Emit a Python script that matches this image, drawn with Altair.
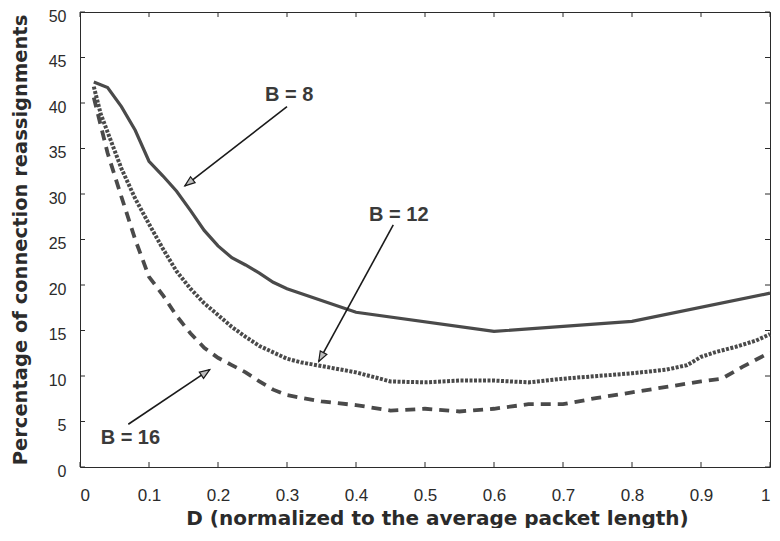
import altair as alt
import pandas as pd

# ---- data ----
d_b8 = [0.02, 0.04, 0.06, 0.08, 0.10, 0.12, 0.14, 0.16, 0.18, 0.20, 0.22, 0.24,
        0.26, 0.28, 0.30, 0.40, 0.60, 0.80, 1.00]
pct_b8 = [42.3, 41.7, 39.6, 37.0, 33.6, 32.0, 30.3, 28.2, 26.0, 24.3, 23.0, 22.2,
          21.3, 20.3, 19.6, 17.0, 14.9, 16.0, 19.1]

d_b12 = [0.02, 0.03, 0.04, 0.06, 0.08, 0.10, 0.12, 0.14, 0.16, 0.18, 0.20, 0.22,
         0.24, 0.26, 0.28, 0.30, 0.32, 0.35, 0.40, 0.45, 0.50, 0.55, 0.60, 0.65,
         0.70, 0.75, 0.80, 0.85, 0.88, 0.90, 0.92, 0.95, 0.98, 1.00]
pct_b12 = [41.8, 38.8, 36.8, 32.8, 29.5, 26.7, 24.0, 21.5, 19.6, 18.0, 16.7, 15.4,
           14.3, 13.3, 12.6, 11.9, 11.5, 11.1, 10.4, 9.4, 9.3, 9.5, 9.5, 9.3,
           9.7, 10.0, 10.3, 10.7, 11.2, 12.1, 12.6, 13.2, 13.9, 14.6]

d_b16 = [0.02, 0.04, 0.06, 0.08, 0.10, 0.12, 0.14, 0.16, 0.18, 0.20, 0.22, 0.24,
         0.26, 0.28, 0.30, 0.35, 0.40, 0.45, 0.50, 0.55, 0.60, 0.65, 0.70, 0.75,
         0.80, 0.85, 0.90, 0.93, 0.96, 1.00]
pct_b16 = [40.6, 34.5, 29.7, 25.0, 20.9, 18.9, 16.6, 14.7, 13.1, 12.0, 11.2, 10.4,
           9.4, 8.5, 7.9, 7.2, 6.8, 6.2, 6.4, 6.1, 6.4, 6.9, 6.9, 7.6,
           8.2, 8.8, 9.4, 9.7, 11.0, 12.6]

ann_labels = ["B = 8", "B = 12", "B = 16"]
ann_text_x = [0.303, 0.462, 0.073]
ann_text_y = [40.9, 27.7, 3.2]
arrow_x0 = [0.300, 0.454, 0.070]
arrow_y0 = [39.6, 26.6, 4.7]
arrow_x1 = [0.152, 0.346, 0.188]
arrow_y1 = [30.9, 11.6, 10.7]
arrow_angle = [232.5, 208.8, 56.0]

x_ticks = [round(i / 10, 1) for i in range(11)]
y_ticks = list(range(0, 51, 5))

# ---- tables ----
df8 = pd.DataFrame({"D": d_b8, "P": pct_b8})
df12 = pd.DataFrame({"D": d_b12, "P": pct_b12})
df16 = pd.DataFrame({"D": d_b16, "P": pct_b16})
ann = pd.DataFrame({
    "label": ann_labels, "tx": ann_text_x, "ty": ann_text_y,
    "x0": arrow_x0, "y0": arrow_y0, "x1": arrow_x1, "y1": arrow_y1,
    "angle": arrow_angle,
})
xt = pd.DataFrame({"t": x_ticks})
yt = pd.DataFrame({"t": y_ticks})

W, H = 690, 455
TICK = 5
FONT = "Liberation Sans"
TFONT = "DejaVu Sans"
INK = "#2b2b2b"
LINE = "#4a4a4a"

xs = alt.Scale(domain=[0, 1], nice=False, zero=False)
ys = alt.Scale(domain=[0, 50], nice=False, zero=False)

bottom_axis = alt.Axis(
    values=x_ticks, format="~g", orient="bottom", ticks=False,
    domain=True, grid=False, labelPadding=20, labelFontSize=17,
    title="D (normalized to the average packet length)", titlePadding=5,
    titleFontSize=20, titleX=W / 2 + 12,
)
left_axis = alt.Axis(
    values=y_ticks, format="~g", orient="left", ticks=False,
    domain=True, grid=False, labelPadding=14, labelFontSize=16, labelOffset=4,
    title="Percentage of connection reassignments", titlePadding=18,
    titleFontSize=19.5, titleLimit=700,
)
top_axis = alt.Axis(values=x_ticks, orient="top", ticks=False,
                    domain=True, grid=False, labels=False, title=None)
right_axis = alt.Axis(values=y_ticks, orient="right", ticks=False,
                      domain=True, grid=False, labels=False, title=None)

# inward ticks on all four sides
tick_b = alt.Chart(xt).mark_rule(color=INK, strokeWidth=1).encode(
    x=alt.X("t:Q", scale=xs, axis=None), y=alt.value(H), y2=alt.value(H - TICK))
tick_t = alt.Chart(xt).mark_rule(color=INK, strokeWidth=1).encode(
    x=alt.X("t:Q", scale=xs, axis=None), y=alt.value(0), y2=alt.value(TICK))
tick_l = alt.Chart(yt).mark_rule(color=INK, strokeWidth=1).encode(
    y=alt.Y("t:Q", scale=ys, axis=None), x=alt.value(0), x2=alt.value(TICK))
tick_r = alt.Chart(yt).mark_rule(color=INK, strokeWidth=1).encode(
    y=alt.Y("t:Q", scale=ys, axis=None), x=alt.value(W), x2=alt.value(W - TICK))

line8 = alt.Chart(df8).mark_line(color=LINE, strokeWidth=3.2).encode(
    x=alt.X("D:Q", scale=xs, axis=bottom_axis),
    y=alt.Y("P:Q", scale=ys, axis=left_axis),
)
line12 = alt.Chart(df12).mark_line(color=LINE, strokeWidth=4,
                                   strokeDash=[3, 1.5], strokeCap="butt").encode(
    x=alt.X("D:Q", scale=xs, axis=None),
    y=alt.Y("P:Q", scale=ys, axis=None),
)
line16 = alt.Chart(df16).mark_line(color=LINE, strokeWidth=3.8,
                                   strokeDash=[10, 7], strokeCap="butt").encode(
    x=alt.X("D:Q", scale=xs, axis=None),
    y=alt.Y("P:Q", scale=ys, axis=None),
)

arrows = alt.Chart(ann).mark_rule(color="#1a1a1a", strokeWidth=1.6).encode(
    x=alt.X("x0:Q", scale=xs, axis=None),
    y=alt.Y("y0:Q", scale=ys, axis=None),
    x2="x1:Q",
    y2="y1:Q",
)
heads = alt.Chart(ann).mark_point(
    shape="M0,0 L-0.75,2 L0.75,2 Z", size=100, filled=True,
    fill="#bdbdbd", stroke="#1a1a1a", strokeWidth=1.2, opacity=1,
).encode(
    x=alt.X("x1:Q", scale=xs, axis=None),
    y=alt.Y("y1:Q", scale=ys, axis=None),
    angle=alt.Angle("angle:Q", scale=None),
)
labels = alt.Chart(ann).mark_text(
    font=FONT, fontSize=20, fontWeight="bold", color="#3a3a3a",
    align="center", baseline="middle",
).encode(
    x=alt.X("tx:Q", scale=xs, axis=top_axis),
    y=alt.Y("ty:Q", scale=ys, axis=right_axis),
    text="label:N",
)

chart = alt.layer(
    line8, tick_b, tick_t, tick_l, tick_r, line12, line16, arrows, heads, labels
).resolve_axis(
    x="independent", y="independent"
).properties(
    width=W, height=H, autosize="none",
    padding={"left": 72, "top": 4, "right": 2, "bottom": 61},
).configure_view(
    strokeWidth=0,
).configure_axis(
    labelFont=FONT, titleFont=TFONT, labelColor=INK, titleColor=INK,
    domainColor=INK, domainWidth=1, titleFontWeight="bold",
)

chart.save("out.html", embed_options={"renderer": "svg", "actions": False})
